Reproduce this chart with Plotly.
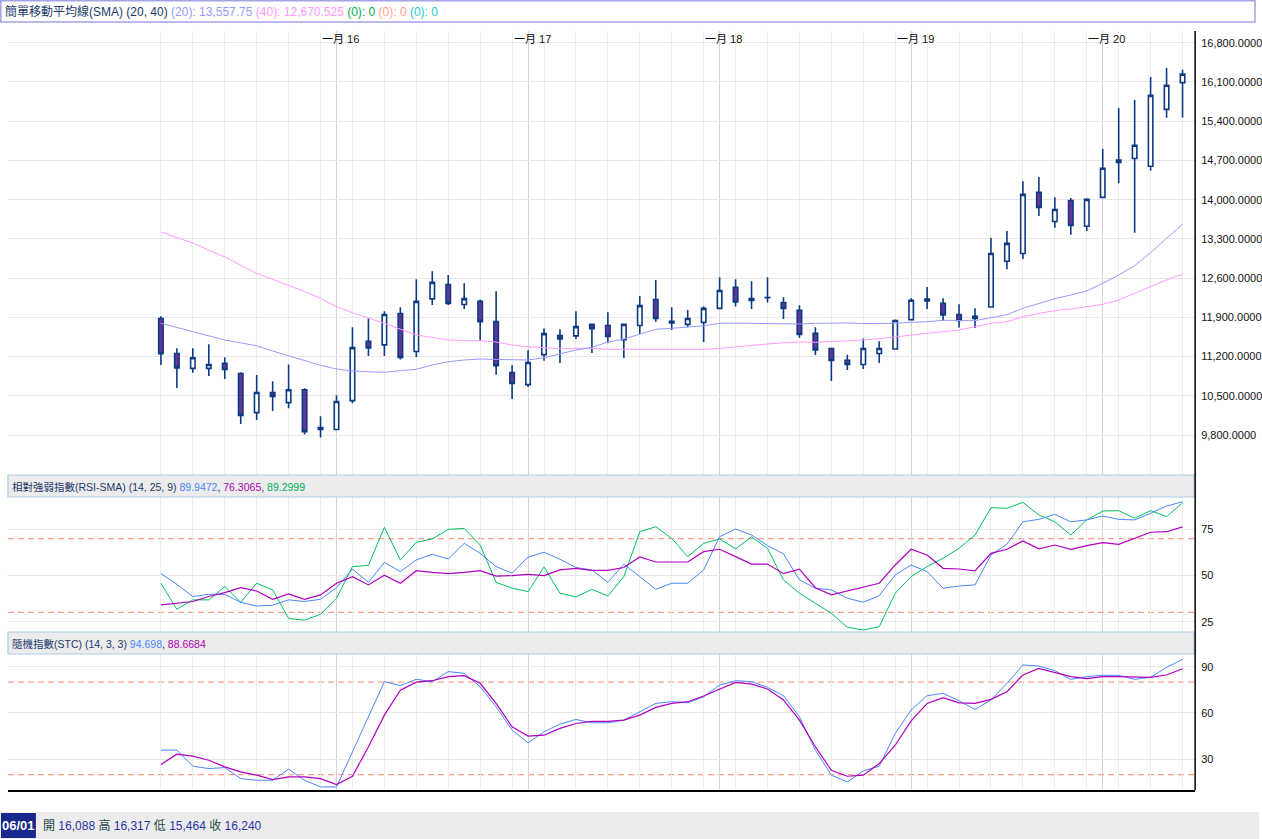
import plotly.graph_objects as go

W, H = 1262, 839

# ? Monthly candles, Feb 2015 .. Jun 2020 (x = month index).
opens = [11880, 11255, 10990, 10990, 11080, 10900, 10200, 10560, 10380, 10610, 9935, 9900,
         10415, 11475, 11410, 11970, 11290, 12230, 12485, 12130, 12185, 11825, 10915, 10700,
         11235, 11575, 11570, 11775, 11755, 11500, 11755, 12220, 11830, 11775, 11810, 12060,
         12435, 12200, 12255, 12165, 12025, 11615, 11345, 11135, 11060, 11255, 11335, 11860,
         12225, 12150, 11950, 11880, 12085, 12900, 13040, 14130, 13610, 13985, 13525, 14040,
         14705, 14735, 14595, 15610, 16088]
highs = [11920, 11350, 11350, 11420, 11190, 10920, 10870, 10760, 11060, 10635, 10135, 10510,
         11725, 11880, 12010, 12080, 12580, 12725, 12655, 12510, 12220, 12365, 11045, 11315,
         11705, 11690, 12010, 11780, 11990, 11780, 12280, 12565, 12080, 12030, 12100, 12615,
         12580, 12545, 12615, 12260, 12115, 11725, 11360, 11235, 11525, 11475, 11860, 12240,
         12440, 12240, 12135, 12065, 13315, 13440, 14330, 14405, 14045, 14030, 14025, 14905,
         15635, 15780, 16190, 16350, 16317]
lows = [11050, 10640, 10910, 10855, 10800, 10000, 10070, 10230, 10280, 9810, 9755, 9895,
        10370, 11210, 11210, 11150, 11195, 12120, 12120, 12050, 11485, 10875, 10445, 10660,
        11125, 11085, 11515, 11265, 11445, 11175, 11605, 11820, 11675, 11725, 11460, 12055,
        12095, 12050, 12165, 11870, 11535, 11230, 10765, 10960, 10980, 11085, 11325, 11845,
        12050, 11850, 11720, 11710, 12085, 12760, 12940, 13710, 13500, 13375, 13440, 14025,
        14295, 13410, 14515, 15460, 15464]
closes = [11250, 11000, 11180, 11060, 10970, 10150, 10560, 10490, 10610, 9860, 9900, 10400,
          11360, 11355, 11950, 11185, 12185, 12525, 12150, 12235, 11825, 11040, 10720, 11095,
          11610, 11515, 11735, 11700, 11560, 11775, 12110, 11880, 11800, 11880, 12060, 12380,
          12175, 12235, 12250, 12060, 11595, 11320, 11130, 11060, 11345, 11345, 11845, 12205,
          12195, 11945, 11845, 11920, 13040, 13220, 14095, 13860, 13825, 13540, 14005, 14560,
          14665, 14970, 15860, 16040, 16240]

sma20 = [11794, 11720, 11651, 11570, 11496, 11445, 11394, 11300, 11216, 11130, 11045, 10979,
         10943, 10930, 10920, 10950, 10973, 11050, 11109, 11140, 11157, 11150, 11140, 11140,
         11180, 11246, 11318, 11366, 11460, 11514, 11603, 11687, 11705, 11733, 11751, 11794,
         11800, 11794, 11790, 11782, 11782, 11794, 11800, 11800, 11790, 11794, 11794, 11812,
         11823, 11848, 11841, 11841, 11894, 11948, 12062, 12151, 12233, 12299, 12370, 12508,
         12656, 12822, 13054, 13310, 13557.75]
sma40 = [13423, 13325, 13227, 13100, 12977, 12830, 12686, 12580, 12477, 12360, 12240, 12090,
         11983, 11890, 11794, 11690, 11585, 11544, 11496, 11484, 11484, 11460, 11407, 11377,
         11359, 11341, 11348, 11348, 11330, 11330, 11330, 11330, 11330, 11330, 11330, 11348,
         11377, 11394, 11425, 11448, 11460, 11455, 11466, 11484, 11496, 11519, 11555, 11585,
         11616, 11644, 11675, 11733, 11794, 11823, 11912, 11972, 12019, 12049, 12090, 12133,
         12210, 12329, 12447, 12567, 12670.525]

rsi = [51.0, 45.2, 38.6, 39.8, 39.8, 35.5, 33.5, 33.9, 36.8, 35.9, 37.1, 43.4,
       53.4, 46.3, 57.1, 52.1, 58.4, 61.5, 58.9, 67.4, 62.0, 54.8, 51.2, 60.0,
       62.6, 58.8, 54.3, 53.0, 46.3, 56.1, 49.4, 42.5, 45.8, 45.8, 53.0, 71.0,
       75.2, 71.9, 66.2, 61.7, 47.6, 43.1, 42.2, 37.7, 35.5, 39.1, 50.3, 55.7,
       52.1, 43.1, 44.3, 44.9, 61.1, 66.9, 79.1, 80.4, 83.1, 79.1, 80.1, 82.2,
       80.4, 80.1, 83.7, 87.6, 89.9472]
rsi_sma = [34.1, 35.0, 35.9, 38.6, 40.7, 43.4, 41.6, 37.1, 40.0, 37.1, 39.5, 45.8,
           49.4, 44.9, 50.1, 45.8, 52.6, 51.7, 51.0, 51.7, 52.6, 49.7, 49.9, 50.6,
           49.9, 53.0, 53.9, 52.8, 52.8, 54.3, 60.0, 57.3, 57.3, 57.3, 62.9, 64.2,
           60.2, 56.2, 56.2, 51.0, 53.4, 43.4, 39.5, 41.6, 43.6, 45.8, 55.7, 64.2,
           61.1, 53.9, 53.5, 52.5, 62.0, 64.2, 68.7, 64.4, 66.5, 64.2, 66.2, 67.8,
           66.9, 70.1, 73.4, 73.7, 76.3065]
rsi_fast = [45.8, 31.7, 36.8, 36.8, 44.0, 35.5, 45.8, 42.2, 26.8, 25.8, 29.0, 37.7,
            54.8, 55.5, 76.1, 58.4, 68.0, 69.8, 75.0, 75.5, 66.5, 46.3, 43.1, 41.3,
            54.6, 40.4, 38.4, 42.5, 38.9, 49.4, 73.7, 76.4, 70.1, 60.2, 67.4, 69.8,
            64.4, 70.9, 64.7, 47.6, 40.4, 35.0, 29.5, 22.0, 20.5, 22.3, 40.4, 49.4,
            54.8, 59.3, 64.7, 71.9, 86.7, 86.4, 89.6, 82.8, 79.1, 71.9, 80.1, 84.9,
            85.1, 81.0, 85.1, 81.9, 89.2999]

stc_k = [35.9, 35.9, 25.5, 24.0, 24.6, 17.5, 16.4, 16.4, 23.6, 16.4, 12.1, 12.1,
         34.8, 57.5, 80.3, 77.7, 81.8, 80.3, 86.8, 85.7, 77.0, 64.0, 48.9, 40.6,
         47.8, 52.8, 55.8, 53.6, 53.6, 55.4, 60.8, 66.2, 67.3, 66.6, 70.5, 78.1,
         80.9, 80.3, 76.6, 71.2, 57.5, 35.9, 19.7, 15.3, 22.5, 25.5, 46.7, 61.9,
         71.2, 72.7, 67.9, 62.3, 68.4, 79.2, 91.1, 90.4, 87.4, 81.8, 83.5, 84.4,
         84.4, 81.8, 83.1, 89.6, 94.698]
stc_d = [26.6, 33.3, 32.0, 29.4, 25.1, 21.8, 19.7, 16.8, 18.6, 18.6, 17.5, 13.6,
         19.0, 38.1, 58.6, 74.8, 80.0, 80.9, 83.5, 84.2, 79.2, 66.2, 51.0, 45.0,
         45.6, 50.0, 53.2, 54.5, 54.5, 55.4, 58.6, 63.6, 66.2, 67.3, 71.0, 75.3,
         79.8, 78.7, 75.5, 68.4, 55.4, 38.1, 22.9, 19.0, 19.7, 27.2, 39.1, 54.9,
         66.2, 69.9, 66.6, 66.2, 68.8, 73.8, 84.6, 88.9, 86.3, 83.5, 82.2, 83.5,
         83.5, 83.5, 83.1, 84.6, 88.6684]

year_idx = [11, 23, 35, 47, 59]
year_labels = ['一月 16', '一月 17', '一月 18', '一月 19', '一月 20']
price_ticks = [9800, 10500, 11200, 11900, 12600, 13300, 14000, 14700, 15400, 16100, 16800]
rsi_ticks = [25, 50, 75]
stc_ticks = [30, 60, 90]

FONT = 'Liberation Sans, Noto Sans CJK TC, sans-serif'
NAVY = '#1b3a6b'
EDGE = '#0d3b82'

idx = list(range(len(closes)))


def fx(p):
    return p / W


def fy(p):
    return 1 - p / H


fig = go.Figure()

# ? Price panel.
fig.add_trace(go.Scatter(x=idx, y=sma40, mode='lines', line=dict(color='#ff99ff', width=1),
                         xaxis='x', yaxis='y'))
fig.add_trace(go.Scatter(x=idx, y=sma20, mode='lines', line=dict(color='#9999ff', width=1),
                         xaxis='x', yaxis='y'))
fig.add_trace(go.Candlestick(
    x=idx, open=opens, high=highs, low=lows, close=closes,
    increasing=dict(line=dict(color=EDGE, width=1.6), fillcolor='white'),
    decreasing=dict(line=dict(color=EDGE, width=1.6), fillcolor='#663399'),
    whiskerwidth=0, xaxis='x', yaxis='y'))

# ? RSI panel.
fig.add_trace(go.Scatter(x=idx, y=rsi_fast, mode='lines', line=dict(color='#00c060', width=1),
                         xaxis='x2', yaxis='y2'))
fig.add_trace(go.Scatter(x=idx, y=rsi, mode='lines', line=dict(color='#4a86ff', width=1),
                         xaxis='x2', yaxis='y2'))
fig.add_trace(go.Scatter(x=idx, y=rsi_sma, mode='lines', line=dict(color='#b000c0', width=1.2),
                         xaxis='x2', yaxis='y2'))

# ? Stochastic panel.
fig.add_trace(go.Scatter(x=idx, y=stc_k, mode='lines', line=dict(color='#4a86ff', width=1),
                         xaxis='x3', yaxis='y3'))
fig.add_trace(go.Scatter(x=idx, y=stc_d, mode='lines', line=dict(color='#b000c0', width=1.2),
                         xaxis='x3', yaxis='y3'))


def xcfg(anchor, line=False):
    return dict(domain=[fx(8), fx(1198)], range=[-9.58, 64.79], anchor=anchor,
                tickmode='array', tickvals=year_idx, showticklabels=False, ticks='',
                showgrid=True, gridcolor='#d4d4d4', gridwidth=1,
                minor=dict(tickmode='array', tickvals=list(range(0, 65, 2)),
                           showgrid=True, gridcolor='#ededed', ticks=''),
                zeroline=False, showline=line, linecolor='black', linewidth=1.5,
                rangeslider=dict(visible=False), fixedrange=True)


def ycfg(anchor, top, bottom, rng, ticks, fmt=None):
    d = dict(domain=[fy(bottom), fy(top)], range=rng, anchor=anchor, side='right',
             tickmode='array', tickvals=ticks, showgrid=True, gridcolor='#e8e8e8',
             zeroline=False, showline=False, ticks='', ticklabelstandoff=5,
             tickfont=dict(size=11, color='#111111', family=FONT), fixedrange=True)
    if fmt:
        d['tickformat'] = fmt
    return d


fig.update_layout(
    width=W, height=H, margin=dict(l=0, r=0, t=0, b=0),
    paper_bgcolor='white', plot_bgcolor='white',
    showlegend=False, hovermode=False, boxgap=0.6,
    font=dict(family=FONT),
    xaxis=xcfg('y'), xaxis2=xcfg('y2'), xaxis3=xcfg('y3', line=True),
    yaxis=ycfg('x', 31, 475, [9088, 17009], price_ticks, ',.4f'),
    yaxis2=ycfg('x2', 497, 632, [19.4, 92.5], rsi_ticks),
    yaxis3=ycfg('x3', 654, 790, [10.1, 98.2], stc_ticks),
)

shapes = []
# ? Header boxes.
shapes.append(dict(type='rect', xref='paper', yref='paper', x0=fx(0.8), x1=fx(1258), y0=fy(22), y1=fy(0.8),
                   line=dict(color='#a3a3e6', width=1.5), fillcolor='white', layer='above'))
for top, bottom in [(475, 497), (632, 654)]:
    shapes.append(dict(type='rect', xref='paper', yref='paper', x0=fx(8), x1=fx(1197), y0=fy(bottom), y1=fy(top),
                       line=dict(color='#a9cfe4', width=1.2), fillcolor='#ececec', layer='above'))
# ? Bottom info bar.
shapes.append(dict(type='rect', xref='paper', yref='paper', x0=0, x1=1, y0=0, y1=fy(812),
                   line=dict(width=0), fillcolor='#ececec', layer='above'))
shapes.append(dict(type='rect', xref='paper', yref='paper', x0=fx(1), x1=fx(36), y0=fy(838), y1=fy(813),
                   line=dict(width=0), fillcolor='#18288c', layer='above'))
# ? Right axis line through all panels.
shapes.append(dict(type='line', xref='paper', yref='paper', x0=fx(1198), x1=fx(1198), y0=fy(790), y1=fy(31),
                   line=dict(color='black', width=1.5), layer='above'))
# ? Indicator reference levels.
for yref, level, color, dash in [('y2', 70, '#ff9d8a', '6px,4px'), ('y2', 30, '#ff9d8a', '6px,4px'),
                                 ('y2', 50, '#a83a3a', '7px,4px'),
                                 ('y3', 80, '#ff9d8a', '6px,4px'), ('y3', 20, '#ff9d8a', '6px,4px')]:
    shapes.append(dict(type='line', xref='paper', yref=yref, x0=fx(8), x1=fx(1198), y0=level, y1=level,
                       line=dict(color=color, width=1.2, dash=dash), layer='between'))
fig.update_layout(shapes=shapes)

annotations = []
for i, label in zip(year_idx, year_labels):
    annotations.append(dict(x=i + 0.25, y=fy(39), xref='x', yref='paper', text=label, showarrow=False,
                            xanchor='center', yanchor='middle', font=dict(size=11, color='#111111')))

header = ('<span style="color:%s">簡單移動平均線(SMA) (20, 40)</span> '
          '<span style="color:#9999ff">(20): 13,557.75</span> '
          '<span style="color:#ff99ff">(40): 12,670.525</span> '
          '<span style="color:#00aa55">(0): 0</span> '
          '<span style="color:#ff9f8f">(0): 0</span> '
          '<span style="color:#22cccc">(0): 0</span>') % NAVY
annotations.append(dict(x=fx(3), y=fy(11.5), xref='paper', yref='paper', text=header, showarrow=False,
                        xanchor='left', yanchor='middle', font=dict(size=12, color=NAVY)))

rsi_head = ('相對強弱指數(RSI-SMA) (14, 25, 9) <span style="color:#4a86ff">89.9472</span>, '
            '<span style="color:#b000b0">76.3065</span>, <span style="color:#00b060">89.2999</span>')
annotations.append(dict(x=fx(10), y=fy(486.5), xref='paper', yref='paper', text=rsi_head, showarrow=False,
                        xanchor='left', yanchor='middle', font=dict(size=10.5, color=NAVY)))

stc_head = ('隨機指數(STC) (14, 3, 3) <span style="color:#4a86ff">94.698</span>, '
            '<span style="color:#b000b0">88.6684</span>')
annotations.append(dict(x=fx(10), y=fy(643.5), xref='paper', yref='paper', text=stc_head, showarrow=False,
                        xanchor='left', yanchor='middle', font=dict(size=10.5, color=NAVY)))

annotations.append(dict(x=fx(18.5), y=fy(825.5), xref='paper', yref='paper', text='<b>06/01</b>',
                        showarrow=False, xanchor='center', yanchor='middle',
                        font=dict(size=13, color='white')))
info = ('<span style="color:#244848">開</span> <span style="color:#2b35a8">16,088</span> '
        '<span style="color:#244848">高</span> <span style="color:#2b35a8">16,317</span> '
        '<span style="color:#244848">低</span> <span style="color:#2b35a8">15,464</span> '
        '<span style="color:#244848">收</span> <span style="color:#2b35a8">16,240</span>')
annotations.append(dict(x=fx(41), y=fy(825.5), xref='paper', yref='paper', text=info, showarrow=False,
                        xanchor='left', yanchor='middle', font=dict(size=12)))
fig.update_layout(annotations=annotations)

fig.write_html("out.html", config={'displayModeBar': False},
               post_script="document.body.style.margin='0';")
